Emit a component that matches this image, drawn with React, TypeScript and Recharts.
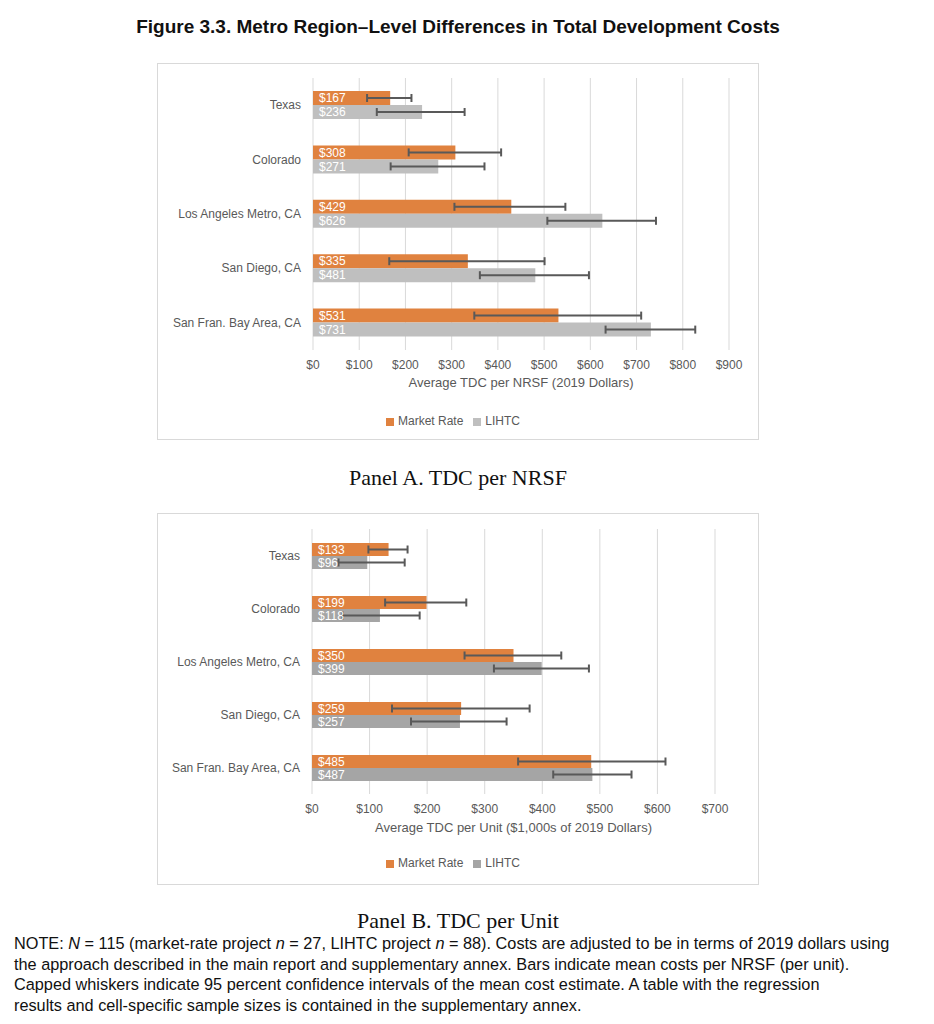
import React from "react";
import {
  BarChart,
  Bar,
  XAxis,
  YAxis,
  CartesianGrid,
  Legend,
  ErrorBar,
  LabelList,
} from "recharts";

// regions shown on the category axis (top to bottom)
const regions = [
  "Texas",
  "Colorado",
  "Los Angeles Metro, CA",
  "San Diego, CA",
  "San Fran. Bay Area, CA",
];

// Panel A: TDC per NRSF (2019 dollars)
const nrsfMarket = [167, 308, 429, 335, 531];
const nrsfLihtc = [236, 271, 626, 481, 731];
const nrsfMarketLow = [117, 207, 306, 165, 349];
const nrsfMarketHigh = [213, 407, 546, 501, 710];
const nrsfLihtcLow = [138, 168, 507, 361, 633];
const nrsfLihtcHigh = [328, 371, 742, 597, 827];
const nrsfTicks = [0, 100, 200, 300, 400, 500, 600, 700, 800, 900];

// Panel B: TDC per unit ($1,000s of 2019 dollars)
const unitMarket = [133, 199, 350, 259, 485];
const unitLihtc = [96, 118, 399, 257, 487];
const unitMarketLow = [98, 127, 265, 139, 358];
const unitMarketHigh = [166, 268, 433, 378, 614];
const unitLihtcLow = [46, 53, 316, 172, 419];
const unitLihtcHigh = [161, 187, 481, 338, 555];
const unitTicks = [0, 100, 200, 300, 400, 500, 600, 700];

const ORANGE = "#E0823F";
const TEXT = "#595959";
const GRID = "#D9D9D9";

// error bars take [below, above] offsets from the bar value
const buildRows = (
  mr: number[],
  li: number[],
  mrLow: number[],
  mrHigh: number[],
  liLow: number[],
  liHigh: number[]
) =>
  regions.map((region, i) => ({
    region,
    market: mr[i],
    lihtc: li[i],
    marketErr: [mr[i] - mrLow[i], mrHigh[i] - mr[i]],
    lihtcErr: [li[i] - liLow[i], liHigh[i] - li[i]],
  }));

const nrsfData = buildRows(nrsfMarket, nrsfLihtc, nrsfMarketLow, nrsfMarketHigh, nrsfLihtcLow, nrsfLihtcHigh);
const unitData = buildRows(unitMarket, unitLihtc, unitMarketLow, unitMarketHigh, unitLihtcLow, unitLihtcHigh);

const dollar = (v: any) => `$${v}`;
const seriesOrder = ["Market Rate", "LIHTC"];

// single-line category labels (recharts would wrap the long one)
const RegionTick = (props: any) => {
  const { x, y, payload } = props;
  return (
    <text x={x} y={y} dy={4} textAnchor="end" fill={TEXT} fontSize={12}>
      {payload.value}
    </text>
  );
};

type PanelProps = {
  data: any[];
  ticks: number[];
  title: string;
  lihtcColor: string;
  top: number;
  height: number;
  yWidth: number;
  margin: { top: number; right: number; bottom: number; left: number };
  xHeight: number;
  labelOffset: number;
  barSize: number;
};

const Panel = (p: PanelProps) => (
  <div
    style={{
      position: "absolute",
      left: 157,
      top: p.top,
      width: 600,
      height: p.height,
      border: `1px solid ${GRID}`,
      background: "#fff",
    }}
  >
    <BarChart
      width={600}
      height={p.height}
      data={p.data}
      layout="vertical"
      margin={p.margin}
      barGap={0}
      barSize={p.barSize}
      style={{ fontFamily: "'Liberation Sans', Arial, sans-serif" }}
    >
      <CartesianGrid horizontal={false} stroke={GRID} strokeWidth={1} />
      <XAxis
        type="number"
        domain={[p.ticks[0], p.ticks[p.ticks.length - 1]]}
        ticks={p.ticks}
        tickFormatter={dollar}
        axisLine={false}
        tickLine={false}
        tickSize={0}
        tickMargin={10}
        height={p.xHeight}
        tick={{ fill: TEXT, fontSize: 12 }}
        label={{
          value: p.title,
          position: "insideBottom",
          offset: p.labelOffset,
          fill: TEXT,
          fontSize: 13,
        }}
      />
      <YAxis
        type="category"
        dataKey="region"
        width={p.yWidth}
        axisLine={false}
        tickLine={false}
        tickSize={0}
        tickMargin={12}
        tick={<RegionTick />}
      />
      <Legend
        verticalAlign="bottom"
        align="center"
        iconType="square"
        iconSize={8}
        itemSorter={(item: any) => seriesOrder.indexOf(item.value)}
        wrapperStyle={{ fontSize: 12, lineHeight: "14px", left: 228, width: "auto" }}
        formatter={(v: any) => <span style={{ color: TEXT }}>{v}</span>}
      />
      <Bar dataKey="market" name="Market Rate" fill={ORANGE} isAnimationActive={false}>
        <LabelList dataKey="market" position="insideLeft" offset={6} fill="#fff" fontSize={12} formatter={dollar} />
        <ErrorBar dataKey="marketErr" direction="x" stroke="#595959" strokeWidth={2} width={4} />
      </Bar>
      <Bar dataKey="lihtc" name="LIHTC" fill={p.lihtcColor} isAnimationActive={false}>
        <LabelList dataKey="lihtc" position="insideLeft" offset={6} fill="#fff" fontSize={12} formatter={dollar} />
        <ErrorBar dataKey="lihtcErr" direction="x" stroke="#595959" strokeWidth={2} width={4} />
      </Bar>
    </BarChart>
  </div>
);

const caption: React.CSSProperties = {
  position: "absolute",
  left: 0,
  width: 916,
  textAlign: "center",
  fontFamily: "'Liberation Serif', 'Times New Roman', serif",
  fontSize: 22,
  color: "#111",
  lineHeight: "26px",
};

export default function App() {
  return (
    <div
      style={{
        position: "absolute",
        left: 0,
        top: 0,
        width: 934,
        height: 1024,
        background: "#fff",
        fontFamily: "'Liberation Sans', Arial, sans-serif",
      }}
    >
      <div
        style={{
          position: "absolute",
          left: 0,
          top: 15,
          width: 916,
          textAlign: "center",
          fontWeight: "bold",
          fontSize: 19,
          lineHeight: "24px",
          color: "#111",
        }}
      >
        Figure 3.3. Metro Region–Level Differences in Total Development Costs
      </div>

      <Panel
        data={nrsfData}
        ticks={nrsfTicks}
        title="Average TDC per NRSF (2019 Dollars)"
        lihtcColor="#BFBFBF"
        top={63}
        height={375}
        yWidth={155}
        margin={{ top: 14, right: 29, bottom: 11, left: 0 }}
        xHeight={64}
        labelOffset={27}
        barSize={14}
      />
      <div style={{ ...caption, top: 465 }}>Panel A. TDC per NRSF</div>

      <Panel
        data={unitData}
        ticks={unitTicks}
        title="Average TDC per Unit ($1,000s of 2019 Dollars)"
        lihtcColor="#A5A5A5"
        top={513}
        height={370}
        yWidth={154}
        margin={{ top: 15, right: 43, bottom: 14, left: 0 }}
        xHeight={62}
        labelOffset={24}
        barSize={13}
      />
      <div style={{ ...caption, top: 908 }}>Panel B. TDC per Unit</div>

      <div
        style={{
          position: "absolute",
          left: 14,
          top: 933,
          fontSize: 16.3,
          lineHeight: "20.7px",
          color: "#111",
          whiteSpace: "nowrap",
        }}
      >
        NOTE: <i>N</i> = 115 (market-rate project <i>n</i> = 27, LIHTC project <i>n</i> = 88). Costs are adjusted to be in terms of 2019 dollars using
        <br />
        the approach described in the main report and supplementary annex. Bars indicate mean costs per NRSF (per unit).
        <br />
        Capped whiskers indicate 95 percent confidence intervals of the mean cost estimate. A table with the regression
        <br />
        results and cell-specific sample sizes is contained in the supplementary annex.
      </div>
    </div>
  );
}
